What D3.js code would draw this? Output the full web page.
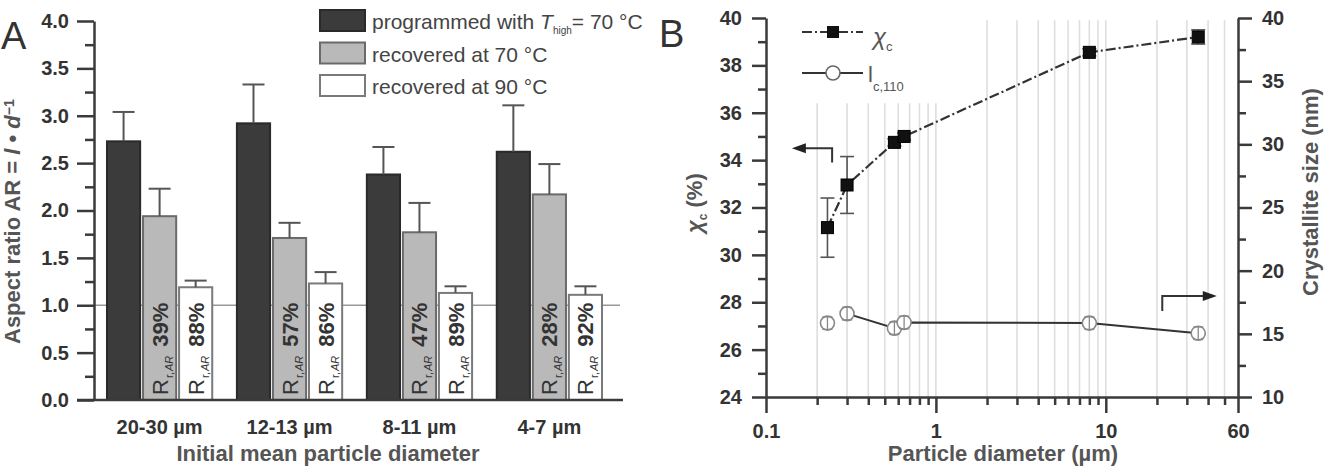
<!DOCTYPE html>
<html>
<head>
<meta charset="utf-8">
<script src="https://cdn.jsdelivr.net/npm/d3@7"></script>
<style>
  body { margin: 0; background: #fff; }
  svg { display: block; font-family: "Liberation Sans", Arial, sans-serif; }
</style>
</head>
<body>
<svg id="chart" width="1327" height="467"></svg>
<script>
// -----------------------------------------------------------------------
// Data
// -----------------------------------------------------------------------

// panel A: aspect ratio per particle size class
const groups = ["20-30 µm", "12-13 µm", "8-11 µm", "4-7 µm"];
const seriesA = ["programmed", "rec70", "rec90"];
const programmed = [2.73, 2.92, 2.38, 2.62];
const programmedErr = [0.31, 0.41, 0.29, 0.49];
const recovered70 = [1.94, 1.71, 1.77, 2.17];
const recovered70Err = [0.29, 0.16, 0.31, 0.32];
const recovered90 = [1.19, 1.23, 1.13, 1.11];
const recovered90Err = [0.07, 0.12, 0.07, 0.09];
const ratio70 = ["39%", "57%", "47%", "28%"];
const ratio90 = ["88%", "86%", "89%", "92%"];
const ticksA = [0, 0.5, 1, 1.5, 2, 2.5, 3, 3.5, 4];
const minorA = [0.25, 0.75, 1.25, 1.75, 2.25, 2.75, 3.25, 3.75];

// panel B: crystallinity and crystallite size vs particle diameter
const diameter = [0.23, 0.30, 0.57, 0.65, 8, 35];
const chiC = [31.15, 32.95, 34.75, 35.0, 38.55, 39.2];
const chiErr = [1.25, 1.2, 0.15, 0.15, 0.15, 0.3];
const crystSize = [15.85, 16.6, 15.45, 15.9, 15.85, 15.05];
const crystErr = [0.5, 0.5, 0.5, 0.5, 0.5, 0.5];
const ticksBx = [0.1, 1, 10, 60];
const minorBx = [0.2, 0.3, 0.4, 0.5, 0.6, 0.7, 0.8, 0.9, 2, 3, 4, 5, 6, 7, 8, 9, 20, 30, 40, 50];
const gridLow = [0.2, 0.3, 0.4, 0.5, 0.6, 0.7, 0.8, 0.9, 1];
const gridHigh = [2, 3, 4, 5, 6, 7, 8, 9, 10, 20, 30, 40, 50];
const ticksBl = [24, 26, 28, 30, 32, 34, 36, 38, 40];
const minorBl = [25, 27, 29, 31, 33, 35, 37, 39];
const ticksBr = [10, 15, 20, 25, 30, 35, 40];
const minorBr = [12.5, 17.5, 22.5, 27.5, 32.5, 37.5];
// arrow annotations, in data units [diameter, value]
const arrowLeft = [[0.245, 33.9], [0.245, 34.5], [0.142, 34.5]];
const arrowRight = [[21.5, 16.8], [21.5, 18], [45, 18]];

// -----------------------------------------------------------------------
// Styles
// -----------------------------------------------------------------------

const AXIS = "#3a3a3a";
const LABEL = "#333";
const TITLE = "#555";
const FONT = '"Liberation Sans", Arial, sans-serif';
const barStyle = {
  programmed: { fill: "#3b3b3b", stroke: "#2a2a2a" },
  rec70: { fill: "#b9b9b9", stroke: "#6a6a6a" },
  rec90: { fill: "#ffffff", stroke: "#7a7a7a" }
};

const svg = d3.select("#chart");

function styleAxis(g, showDomain) {
  g.attr("font-family", FONT).attr("font-size", 20).attr("font-weight", "bold");
  g.select(".domain").attr("stroke", AXIS).attr("stroke-width", 2.5)
    .attr("display", showDomain ? null : "none");
  g.selectAll(".tick line").attr("stroke", AXIS).attr("stroke-width", 2.5);
  g.selectAll(".tick text").attr("fill", LABEL);
}

// -----------------------------------------------------------------------
// Panel A
// -----------------------------------------------------------------------

const yA = d3.scaleLinear().domain([0, 4]).range([400, 21]);
const xA = d3.scaleBand().domain(groups).range([94, 615]).paddingInner(0.19).paddingOuter(0.1);
const xSub = d3.scaleBand().domain(seriesA).range([0, xA.bandwidth()]).paddingInner(0.08);

const gA = svg.append("g");

// panel letter
gA.append("text").attr("x", 1).attr("y", 49).attr("font-size", 38)
  .attr("fill", "#333").text("A");

// reference line at AR = 1
gA.append("line")
  .attr("x1", xA.range()[0]).attr("x2", xA.range()[1] + 5)
  .attr("y1", yA(1)).attr("y2", yA(1))
  .attr("stroke", "#999").attr("stroke-width", 1.5);

const rowsA = groups.map((g, i) => [
  { group: g, s: "programmed", v: programmed[i], e: programmedErr[i] },
  { group: g, s: "rec70", v: recovered70[i], e: recovered70Err[i], label: ratio70[i] },
  { group: g, s: "rec90", v: recovered90[i], e: recovered90Err[i], label: ratio90[i] }
]).flat();

const barG = gA.append("g").selectAll("g").data(rowsA).join("g")
  .attr("transform", d => `translate(${xA(d.group) + xSub(d.s)},0)`);

barG.append("rect")
  .attr("x", 0).attr("width", xSub.bandwidth())
  .attr("y", d => yA(d.v)).attr("height", d => yA(0) - yA(d.v))
  .attr("fill", d => barStyle[d.s].fill)
  .attr("stroke", d => barStyle[d.s].stroke).attr("stroke-width", 2);

// upper error bars
const bw = xSub.bandwidth();
barG.append("line")
  .attr("x1", bw / 2).attr("x2", bw / 2)
  .attr("y1", d => yA(d.v)).attr("y2", d => yA(d.v + d.e))
  .attr("stroke", "#555").attr("stroke-width", 2);
barG.append("line")
  .attr("x1", bw / 2 - 11).attr("x2", bw / 2 + 11)
  .attr("y1", d => yA(d.v + d.e)).attr("y2", d => yA(d.v + d.e))
  .attr("stroke", "#555").attr("stroke-width", 2);

// recovery ratio labels inside the bars
const lab = barG.filter(d => d.label)
  .append("text")
  .attr("transform", d => `translate(${bw / 2 + 8},${yA(0) - 5}) rotate(-90)`)
  .attr("fill", "#333").attr("font-size", 22);
lab.append("tspan").text("R");
lab.append("tspan").attr("font-size", 11).attr("dy", 5).attr("dx", 1).text("r,");
lab.append("tspan").attr("font-size", 11).attr("font-style", "italic").attr("dx", 1).text("AR");
lab.append("tspan").attr("dy", -5).attr("dx", 9).attr("font-weight", "bold").text(d => d.label);

// axes
const axisYA = gA.append("g").attr("transform", "translate(94,0)")
  .call(d3.axisLeft(yA).tickValues(ticksA).tickSize(17).tickPadding(8)
    .tickFormat(d3.format(".1f")).tickSizeOuter(0));
styleAxis(axisYA, true);
const minorYA = gA.append("g").attr("transform", "translate(94,0)")
  .call(d3.axisLeft(yA).tickValues(minorA).tickSize(9).tickFormat(""));
styleAxis(minorYA, false);

gA.append("line")
  .attr("x1", xA.range()[0] - 17).attr("x2", xA.range()[1] + 8)
  .attr("y1", yA(0)).attr("y2", yA(0))
  .attr("stroke", AXIS).attr("stroke-width", 2.5);

const axisXA = gA.append("g").attr("transform", `translate(0,${yA(0)})`)
  .call(d3.axisBottom(xA).tickSize(0).tickPadding(20));
styleAxis(axisXA, false);

// titles
const ytA = gA.append("text")
  .attr("transform", `translate(20,${yA(0) - 56}) rotate(-90)`)
  .attr("font-size", 22).attr("font-weight", "bold").attr("fill", TITLE);
ytA.append("tspan").text("Aspect ratio AR = ");
ytA.append("tspan").attr("font-style", "italic").text("l");
ytA.append("tspan").text(" • ");
ytA.append("tspan").attr("font-style", "italic").text("d");
ytA.append("tspan").attr("font-size", 14).attr("dy", -6).text("−1");

gA.append("text").attr("x", 328).attr("y", 461).attr("text-anchor", "middle")
  .attr("font-size", 22).attr("font-weight", "bold").attr("fill", TITLE)
  .text("Initial mean particle diameter");

// legend
const legA = gA.append("g").attr("transform", "translate(320,10)");
const legItems = legA.selectAll("g").data(seriesA).join("g")
  .attr("transform", (d, i) => `translate(0,${i * 32.5})`);
legItems.append("rect").attr("width", 45).attr("height", 21)
  .attr("fill", d => barStyle[d].fill).attr("stroke", d => barStyle[d].stroke)
  .attr("stroke-width", 2);
const legText = legItems.append("text").attr("x", 52).attr("y", 19)
  .attr("font-size", 21).attr("fill", "#444");
legText.filter(d => d === "programmed").each(function () {
  const t = d3.select(this);
  t.append("tspan").text("programmed with ");
  t.append("tspan").attr("font-style", "italic").text("T");
  t.append("tspan").attr("font-size", 10).attr("dy", 5).text("high");
  t.append("tspan").attr("dy", -5).text("= 70 °C");
});
legText.filter(d => d === "rec70").text("recovered at 70 °C");
legText.filter(d => d === "rec90").text("recovered at 90 °C");

// -----------------------------------------------------------------------
// Panel B
// -----------------------------------------------------------------------

const xB = d3.scaleLog().domain([0.1, 60]).range([766, 1238]);
const yBL = d3.scaleLinear().domain([24, 40]).range([397, 18]);
const yBR = d3.scaleLinear().domain([10, 40]).range([397, 18]);

const gB = svg.append("g");

gB.append("text").attr("x", 659).attr("y", 47).attr("font-size", 38)
  .attr("fill", "#333").text("B");

// vertical grid lines
gB.append("g").selectAll("line").data(gridLow).join("line")
  .attr("x1", d => xB(d)).attr("x2", d => xB(d))
  .attr("y1", yBL(36.4)).attr("y2", yBL(24))
  .attr("stroke", "#dedede").attr("stroke-width", 1.6);
gB.append("g").selectAll("line").data(gridHigh).join("line")
  .attr("x1", d => xB(d)).attr("x2", d => xB(d))
  .attr("y1", yBL(39.9)).attr("y2", yBL(24))
  .attr("stroke", "#dedede").attr("stroke-width", 1.6);

const ptsB = diameter.map((d, i) => ({
  x: d, chi: chiC[i], chiE: chiErr[i], l: crystSize[i], lE: crystErr[i]
}));

// crystallite size line (starts at second point)
gB.append("path")
  .datum(ptsB.slice(1))
  .attr("fill", "none").attr("stroke", "#333").attr("stroke-width", 2)
  .attr("d", d3.line().x(d => xB(d.x)).y(d => yBR(d.l)));

// crystallinity line, dash-dot
gB.append("path")
  .datum(ptsB)
  .attr("fill", "none").attr("stroke", "#333").attr("stroke-width", 2.2)
  .attr("stroke-dasharray", "10,3,2,3")
  .attr("d", d3.line().x(d => xB(d.x)).y(d => yBL(d.chi)));

// error bars
const errB = gB.append("g").selectAll("g").data(ptsB).join("g");
errB.append("line")
  .attr("x1", d => xB(d.x)).attr("x2", d => xB(d.x))
  .attr("y1", d => yBL(d.chi - d.chiE)).attr("y2", d => yBL(d.chi + d.chiE))
  .attr("stroke", "#555").attr("stroke-width", 1.6);
[-1, 1].forEach(sgn => {
  errB.append("line")
    .attr("x1", d => xB(d.x) - 7).attr("x2", d => xB(d.x) + 7)
    .attr("y1", d => yBL(d.chi + sgn * d.chiE)).attr("y2", d => yBL(d.chi + sgn * d.chiE))
    .attr("stroke", "#555").attr("stroke-width", 1.6);
});

// open circles with inner error bars
const circB = gB.append("g").selectAll("g").data(ptsB).join("g")
  .attr("transform", d => `translate(${xB(d.x)},${yBR(d.l)})`);
circB.append("circle").attr("r", 7).attr("fill", "#fff")
  .attr("stroke", "#888").attr("stroke-width", 1.6);
circB.append("line").attr("y1", d => yBR(d.l - d.lE) - yBR(d.l)).attr("y2", d => yBR(d.l + d.lE) - yBR(d.l))
  .attr("stroke", "#888").attr("stroke-width", 1.3);
[-1, 1].forEach(sgn => {
  circB.append("line").attr("x1", -5).attr("x2", 5)
    .attr("y1", d => yBR(d.l + sgn * d.lE) - yBR(d.l)).attr("y2", d => yBR(d.l + sgn * d.lE) - yBR(d.l))
    .attr("stroke", "#888").attr("stroke-width", 1.3);
});

// filled squares
gB.append("g").selectAll("rect").data(ptsB).join("rect")
  .attr("x", d => xB(d.x) - 6).attr("y", d => yBL(d.chi) - 6)
  .attr("width", 12).attr("height", 12)
  .attr("fill", "#111").attr("stroke", "#000").attr("stroke-width", 1);

// arrows
function arrow(pts, yScale) {
  const p = pts.map(d => [xB(d[0]), yScale(d[1])]);
  const last = p[p.length - 1];
  const dir = Math.sign(last[0] - p[p.length - 2][0]);
  gB.append("polyline")
    .attr("points", p.slice(0, -1).concat([[last[0] - dir * 9, last[1]]]).join(" "))
    .attr("fill", "none").attr("stroke", "#333").attr("stroke-width", 2);
  gB.append("path")
    .attr("d", `M${last[0]},${last[1]} l${-dir * 14},-5 l0,10 z`)
    .attr("fill", "#222");
}
arrow(arrowLeft, yBL);
arrow(arrowRight, yBR);

// axes
const axisBL = gB.append("g").attr("transform", "translate(766,0)")
  .call(d3.axisLeft(yBL).tickValues(ticksBl).tickSize(14).tickPadding(10).tickSizeOuter(0));
styleAxis(axisBL, true);
styleAxis(gB.append("g").attr("transform", "translate(766,0)")
  .call(d3.axisLeft(yBL).tickValues(minorBl).tickSize(8).tickFormat("")), false);

const axisBR = gB.append("g").attr("transform", "translate(1238,0)")
  .call(d3.axisRight(yBR).tickValues(ticksBr).tickSize(14).tickPadding(10).tickSizeOuter(0));
styleAxis(axisBR, true);
styleAxis(gB.append("g").attr("transform", "translate(1238,0)")
  .call(d3.axisRight(yBR).tickValues(minorBr).tickSize(8).tickFormat("")), false);

const axisBX = gB.append("g").attr("transform", `translate(0,${yBL(24)})`)
  .call(d3.axisBottom(xB).tickValues(ticksBx).tickFormat(d => d).tickSize(16).tickPadding(11).tickSizeOuter(0));
styleAxis(axisBX, true);
styleAxis(gB.append("g").attr("transform", `translate(0,${yBL(24)})`)
  .call(d3.axisBottom(xB).tickValues(minorBx).tickSize(8).tickFormat("")), false);

// titles
const ytBL = gB.append("text")
  .attr("transform", `translate(702,233) rotate(-90)`)
  .attr("font-size", 22).attr("font-weight", "bold").attr("fill", TITLE);
ytBL.append("tspan").attr("font-style", "italic").text("χ");
ytBL.append("tspan").attr("font-size", 12).attr("dy", 5).text("c");
ytBL.append("tspan").attr("dy", -5).text(" (%)");

gB.append("text")
  .attr("transform", `translate(1318,192) rotate(-90)`)
  .attr("text-anchor", "middle")
  .attr("font-size", 22).attr("font-weight", "bold").attr("fill", TITLE)
  .text("Crystallite size (nm)");

gB.append("text").attr("x", 1003).attr("y", 461).attr("text-anchor", "middle")
  .attr("font-size", 22).attr("font-weight", "bold").attr("fill", TITLE)
  .text("Particle diameter (µm)");

// legend
const legB = gB.append("g").attr("transform", "translate(802,0)");
legB.append("line").attr("x1", 0).attr("x2", 61).attr("y1", 32).attr("y2", 32)
  .attr("stroke", "#333").attr("stroke-width", 2.2).attr("stroke-dasharray", "10,3,2,3");
legB.append("rect").attr("x", 25).attr("y", 26).attr("width", 12).attr("height", 12)
  .attr("fill", "#111");
legB.append("line").attr("x1", 0).attr("x2", 61).attr("y1", 73).attr("y2", 73)
  .attr("stroke", "#333").attr("stroke-width", 2);
legB.append("circle").attr("cx", 31).attr("cy", 73).attr("r", 7)
  .attr("fill", "#fff").attr("stroke", "#666").attr("stroke-width", 1.6);
const lb1 = legB.append("text").attr("x", 71).attr("y", 45).attr("font-size", 24).attr("fill", "#555");
lb1.append("tspan").attr("font-style", "italic").text("χ");
lb1.append("tspan").attr("font-size", 13).attr("dy", 6).text("c");
const lb2 = legB.append("text").attr("x", 66).attr("y", 82).attr("font-size", 22).attr("fill", "#555");
lb2.append("tspan").text("l");
lb2.append("tspan").attr("font-size", 13).attr("dy", 9).text("c,110");
</script>
</body>
</html>
